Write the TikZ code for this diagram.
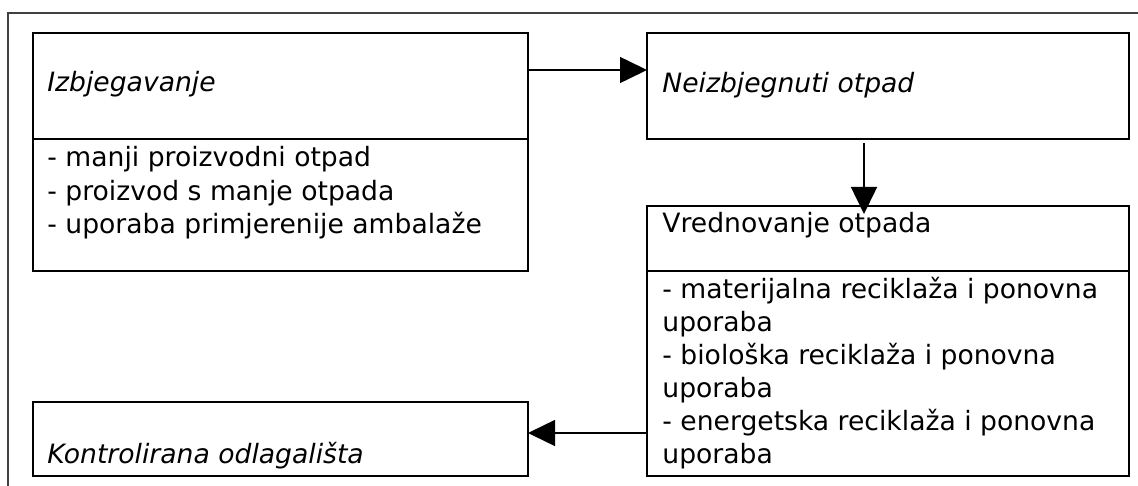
\documentclass[tikz,border=0pt]{standalone}
\usepackage{fontspec}
\setmainfont{DejaVu Sans}
\usetikzlibrary{arrows.meta,calc}

\tikzset{
  okvir/.style={draw, line width=1.2pt, inner sep=0pt, outer sep=0pt, minimum width=247.5pt},
  okvirB/.style={okvir, minimum width=241pt},
  tekst/.style={anchor=base west, inner sep=0pt, font=\fontsize{13.3pt}{16pt}\selectfont},
  naslov/.style={tekst, font=\fontsize{13.3pt}{16pt}\selectfont\itshape},
  strelica/.style={line width=0.75pt, -{Triangle[length=13.5pt,width=13pt]}}
}

\begin{document}
\begin{tikzpicture}[x=0.5pt,y=-0.5pt]
			%%%%% START %%%%%
			\useasboundingbox (0,0) rectangle (1138,486);
			
			\draw[line width=0.8pt, color=black!75] (8,490) -- (8,13) -- (1142,13);
			
			% boxes
			\node[okvir, minimum height=53pt] (izbGore) at (280.5,86) {};
			\node[okvir, minimum height=66pt] (izbDolje) at (280.5,205) {};
			\node[okvirB, minimum height=53pt] (neizb) at (888,86) {};
			\node[okvirB, minimum height=32.5pt] (vredGore) at (888,238.5) {};
			\node[okvirB, minimum height=102.5pt] (vredDolje) at (888,373.5) {};
			\node[okvir, minimum height=37pt] (kontr) at (280.5,439) {};
			
			% texts
			\node[naslov] (tIzb) at (47,92) {Izbjegavanje};
			\node[tekst] (tA1) at (47,167) {- manji proizvodni otpad};
			\node[tekst] (tA2) at (47,200) {- proizvod s manje otpada};
			\node[tekst] (tA3) at (47,233) {- uporaba primjerenije ambalaže};
			
			\node[naslov] (tNeizb) at (662,93) {Neizbjegnuti otpad};
			
			\node[tekst] (tVred) at (662,232) {Vrednovanje otpada};
			\node[tekst] (tC1) at (662,298) {- materijalna reciklaža i ponovna};
			\node[tekst] (tC2) at (662,331) {uporaba};
			\node[tekst] (tC3) at (662,364) {- biološka reciklaža i ponovna};
			\node[tekst] (tC4) at (662,397) {uporaba};
			\node[tekst] (tC5) at (662,430) {- energetska reciklaža i ponovna};
			\node[tekst] (tC6) at (662,463) {uporaba};
			
			\node[naslov] (tKontr) at (47,463) {Kontrolirana odlagališta};
			
			% arrows
			\draw[strelica] ($(izbGore.north east)+(0,37)$) -- ($(neizb.north west)+(0,37)$);
			\draw[strelica] ($(neizb.south west)+(217,4)$) -- ($(vredGore.north west)+(217,8)$);
			\draw[strelica] ($(vredDolje.south west)+(0,-43)$) -- ($(kontr.north east)+(0,31)$);
			
			%%%%% END %%%%%
\end{tikzpicture}
\end{document}
